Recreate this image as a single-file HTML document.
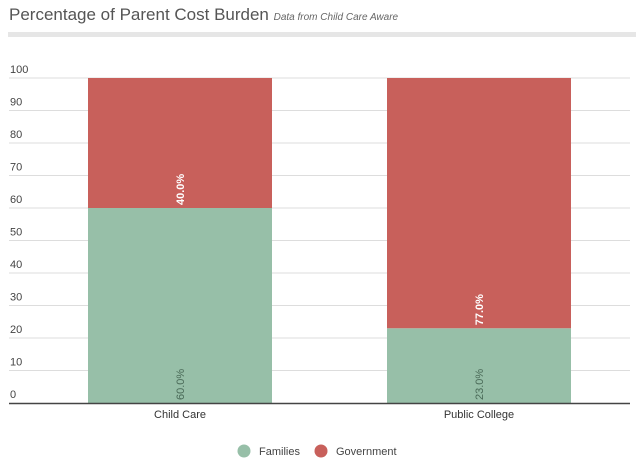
<!DOCTYPE html>
<html><head><meta charset="utf-8"><style>
body{margin:0;background:#fff;width:640px;height:463px;overflow:hidden;font-family:"Liberation Sans",sans-serif}
</style></head><body>
<svg width="640" height="463">
<text x="9" y="20" font-size="17" fill="#555">Percentage of Parent Cost Burden <tspan font-size="10" font-style="italic" fill="#666">Data from Child Care Aware</tspan></text>
<rect x="8" y="32" width="628" height="5" fill="#e6e6e6"/>
<g id="grid"></g><g id="bars"></g>
<line x1="9" x2="630" y1="403.5" y2="403.5" stroke="#444" stroke-width="1.5"/>
<g font-size="11" fill="#444">
<circle cx="244" cy="451" r="6.5" fill="#97bfa8"/>
<text x="259" y="455">Families</text>
<circle cx="321" cy="451" r="6.5" fill="#c8605b"/>
<text x="336" y="455">Government</text>
</g>
</svg>
<script>
const categories=["Child Care","Public College"];
const families=[60,23];
const government=[40,77];
const ticks=[0,10,20,30,40,50,60,70,80,90,100];
const NS="http://www.w3.org/2000/svg";
const y=v=>403-v*3.25;
const xc=i=>180+i*299;
const bw=184;
function mk(t,a,p){const e=document.createElementNS(NS,t);for(const k in a)e.setAttribute(k,a[k]);p.appendChild(e);return e;}
const g=document.getElementById('grid'),b=document.getElementById('bars');
ticks.forEach(t=>{
 if(t>0){const l=mk('line',{x1:9,x2:630,y1:y(t),y2:y(t),stroke:'#ddd','stroke-width':1},g);
 
 }
 const tx=mk('text',{x:10,y:y(t)-5,'font-size':11,fill:'#444'},g);tx.textContent=t;
 
 
});
categories.forEach((c,i)=>{
 const x0=xc(i)-bw/2;
 const r1=mk('rect',{x:x0,y:y(families[i]),width:bw,height:y(0)-y(families[i]),fill:'#97bfa8'},b);
 
 
 const top=families[i]+government[i];
 const r2=mk('rect',{x:x0,y:y(top),width:bw,height:y(families[i])-y(top),fill:'#c8605b'},b);
 
 
 const l1=mk('text',{transform:`translate(${xc(i)+4},${y(0)-3}) rotate(-90)`,'font-size':11,fill:'#4a6a58'},b);
 l1.textContent=families[i].toFixed(1)+'%';
 
 
 const l2=mk('text',{transform:`translate(${xc(i)+4},${y(families[i])-3}) rotate(-90)`,'font-size':11,'font-weight':'bold',fill:'#fff'},b);
 l2.textContent=government[i].toFixed(1)+'%';
 
 
 const cl=mk('text',{x:xc(i),y:418,'font-size':11,fill:'#333','text-anchor':'middle'},b);
 cl.textContent=c;
 
 
});
</script>
</body></html>
